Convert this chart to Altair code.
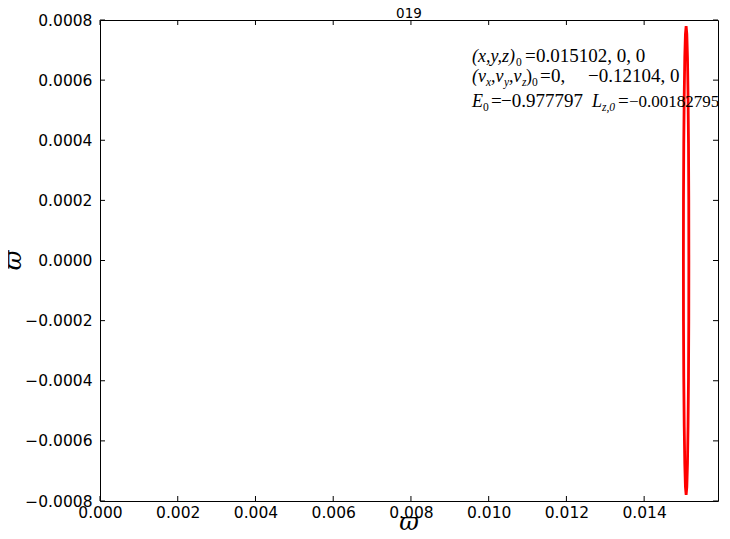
import altair as alt
import pandas as pd

# ---- data ----
orbit_x = [0.015150, 0.015148, 0.015141, 0.015129, 0.015115, 0.015098, 0.015080,
           0.015062, 0.015045, 0.015031, 0.015019, 0.015012, 0.015010, 0.015012,
           0.015019, 0.015031, 0.015045, 0.015062, 0.015080, 0.015098, 0.015115,
           0.015129, 0.015141, 0.015148, 0.015150]
orbit_y = [0.000000, 0.000202, 0.000390, 0.000551, 0.000675, 0.000753, 0.000780,
           0.000753, 0.000675, 0.000551, 0.000390, 0.000202, 0.000000, -0.000202,
           -0.000390, -0.000551, -0.000675, -0.000753, -0.000780, -0.000753, -0.000675,
           -0.000551, -0.000390, -0.000202, 0.000000]
x_ticks = [0.000, 0.002, 0.004, 0.006, 0.008, 0.010, 0.012, 0.014]
y_ticks = [-0.0008, -0.0006, -0.0004, -0.0002, 0.0, 0.0002, 0.0004, 0.0006, 0.0008]
x_domain = [0.0, 0.0159]
y_domain = [-0.0008, 0.0008]
title_text = "019"
axis_label = "ϖ"

orbit = pd.DataFrame({"x": orbit_x, "y": orbit_y, "i": list(range(len(orbit_x)))})
xt = pd.DataFrame({"x": x_ticks})
yt = pd.DataFrame({"y": y_ticks})
one = pd.DataFrame({"a": [0]})

W, H = 618, 481
TL = 5  # tick length

xscale = alt.Scale(domain=x_domain, nice=False, zero=False)
yscale = alt.Scale(domain=y_domain, nice=False, zero=False)
xaxis = alt.Axis(values=x_ticks, format=".3f", title=None, ticks=False, domain=False,
                 grid=False, labelPadding=4, labelFont="DejaVu Sans", labelFontSize=15.5,
                 labelColor="black", labelFlush=False)
yaxis = alt.Axis(values=y_ticks, format=".4f", title=None, ticks=False, domain=False,
                 grid=False, labelPadding=8, labelFont="DejaVu Sans", labelFontSize=15.5,
                 labelColor="black", labelFlush=False)

X = lambda f: alt.X(f, scale=xscale, axis=xaxis)
Y = lambda f: alt.Y(f, scale=yscale, axis=yaxis)

line = alt.Chart(orbit).mark_line(color="#ff0000", strokeWidth=2.8).encode(
    x=X("x:Q"), y=Y("y:Q"), order="i:Q")

tick_b = alt.Chart(xt).mark_rule(color="black", strokeWidth=1).encode(
    x=X("x:Q"), y=alt.value(H), y2=alt.value(H - TL))
tick_t = alt.Chart(xt).mark_rule(color="black", strokeWidth=1).encode(
    x=X("x:Q"), y=alt.value(0), y2=alt.value(TL))
tick_l = alt.Chart(yt).mark_rule(color="black", strokeWidth=1).encode(
    y=Y("y:Q"), x=alt.value(0), x2=alt.value(TL))
tick_r = alt.Chart(yt).mark_rule(color="black", strokeWidth=1).encode(
    y=Y("y:Q"), x=alt.value(W - TL), x2=alt.value(W))


def txt(t, px, py, size, italic=False, font="Liberation Serif", align="left", angle=0):
    kw = dict(text=t, font=font, fontSize=size, align=align, baseline="alphabetic",
              color="black", fontStyle="italic" if italic else "normal")
    if angle:
        kw["angle"] = angle
    return alt.Chart(one).mark_text(**kw).encode(x=alt.value(px), y=alt.value(py))


MAIN = 19
IT = 18
SUB = 11.5
L1, L2, L3 = 42, 62, 87
texts = [
    # line 1
    txt("(x,y,z)", 372, L1, IT, True),
    txt("0", 416, L1 + 4, SUB),
    txt("=", 425, L1, MAIN),
    txt("0.015102, 0, 0", 436, L1, MAIN),
    # line 2
    txt("(v", 372, L2, IT, True),
    txt("x", 386, L2 + 4, SUB, True),
    txt(",v", 391, L2, IT, True),
    txt("y", 404, L2 + 4, SUB, True),
    txt(",v", 409, L2, IT, True),
    txt("z", 422, L2 + 4, SUB, True),
    txt(")", 426, L2, IT),
    txt("0", 432, L2 + 4, SUB),
    txt("=", 440, L2, MAIN),
    txt("0,", 451, L2, MAIN),
    txt("−0.12104, 0", 488, L2, MAIN),
    # line 3
    txt("E", 372, L3, IT, True),
    txt("0", 383, L3 + 4, SUB),
    txt("=", 391, L3, MAIN),
    txt("−0.977797", 401, L3, MAIN),
    txt("L", 492, L3, IT, True),
    txt("z,0", 502, L3 + 4, SUB, True),
    txt("=", 518, L3, MAIN),
    txt("−0.00182795", 529, L3, 17),
]

title = txt(title_text, W / 2, -2, 13.5, font="DejaVu Sans", align="center")
xtitle = txt(axis_label, W / 2, 510, 24, True, font="DejaVu Serif", align="center")
ytitle = txt(axis_label, -79, H / 2, 24, True, font="DejaVu Serif", align="center", angle=270)

chart = alt.layer(line, tick_b, tick_t, tick_l, tick_r, *texts, title, xtitle, ytitle).properties(
    width=W, height=H, autosize="none",
    padding={"left": 92, "top": 12, "right": 4, "bottom": 30},
    background="white",
).configure_view(stroke="black", strokeWidth=1)

chart.save("out.html", embed_options={"renderer": "svg", "actions": False})
